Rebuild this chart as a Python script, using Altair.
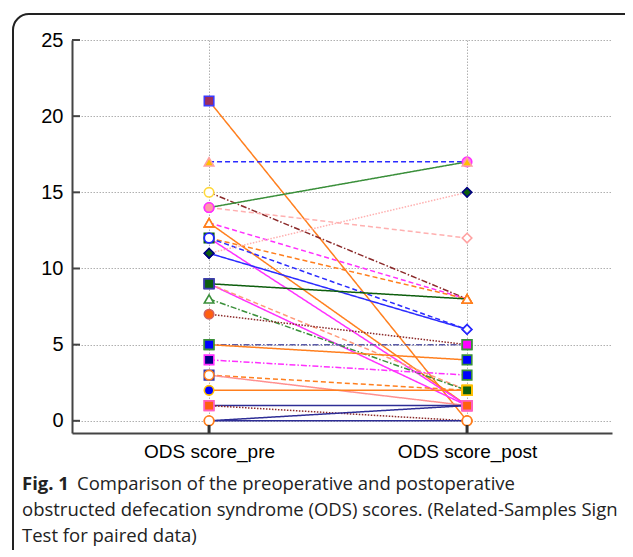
import altair as alt
import pandas as pd

# ---- data ----
categories = ["ODS score_pre", "ODS score_post"]
patients = [f"P{i:02d}" for i in range(1, 28)]
pre_scores = [21, 17, 15, 14, 14, 13, 13, 12, 12, 12, 11, 11, 9, 9, 9, 8, 7, 5, 5, 4, 3, 3, 2, 1, 1, 0, 0]
post_scores = [0, 17, 8, 17, 12, 8, 1, 8, 6, 1, 15, 6, 8, 1, 2, 2, 5, 5, 4, 3, 2, 1, 2, 1, 0, 1, 0]
pre_marker = ["sq_purple", "tri_yellow", "ci_yellowring", "ci_pink", "ci_pink", "tri_orange", "tri_orange",
              "sq_greenring", "ci_bluering", "ci_bluering", "di_green", "di_green", "sq_dkgreen", "sq_dkgreen",
              "sq_dkgreen", "tri_green", "ci_orange", "sq_blue", "sq_blue", "sq_navy", "sq_white", "ci_orangering",
              "ci_blue", "sq_orange", "sq_orange", "ci_orangering", "ci_orangering"]
post_marker = ["ci_orangering", "tri_yellow", "tri_orange", "ci_magenta", "di_pink", "tri_orange", "sq_orange",
               "tri_orange", "di_blue", "sq_orange", "di_green", "di_blue", "tri_orange", "sq_orange", "sq_dkgreen2",
               "sq_dkgreen2", "sq_magenta", "sq_magenta", "sq_blue", "sq_blue", "sq_dkgreen2", "sq_orange",
               "sq_dkgreen2", "sq_orange", "ci_orangering", "sq_orange", "ci_orangering"]
caption_bold = "Fig. 1"
caption_lines = ["Comparison of the preoperative and postoperative",
                 "obstructed defecation syndrome (ODS) scores. (Related-Samples Sign",
                 "Test for paired data)"]
y_ticks = [0, 5, 10, 15, 20, 25]

# ---- styles ----
OR, BL, DR, GR, PK, MG, NV, SA, DG = ("#ff7f1e", "#2b2bff", "#8b2a2a", "#3a8f3a", "#ffb0b0",
                                     "#ff30ff", "#2e2e96", "#ff9a7a", "#0d5e0d")
SOLID, DASH, DASHDOT, DOT = [1, 0], [5, 3], [6, 2, 1.5, 2], [1.5, 1.5]
line_colors = [OR, BL, DR, GR, PK, MG, OR, OR, BL, MG, PK, BL, DG, MG, SA, GR, DR, "#5c5ca8", OR, MG, OR, "#ff9090",
               OR, NV, DR, NV, NV]
line_dashes = [SOLID, DASH, DASHDOT, SOLID, DASH, DASH, SOLID, DASH, DASH, SOLID, DOT, SOLID, SOLID, SOLID, DASH,
               DASHDOT, DOT, DASHDOT, SOLID, DASHDOT, DASH, SOLID, SOLID, SOLID, DOT, SOLID, SOLID]
line_widths = [1.5, 1.5, 1.5, 1.5, 1.3, 1.5, 1.5, 1.3, 1.5, 1.5, 1.3, 1.5, 2.8, 1.5, 1.3, 1.3, 1.5, 2, 1.5, 1.5, 1.3,
               1.3, 2.8, 2.8, 1.5, 2.8, 2]

marker_styles = {
    # key: (shape, fill, stroke)
    "sq_purple": ("square", "#9b2e5e", "#3b3bff"),
    "tri_yellow": ("triangle-up", "#ffc000", "#ffa0a0"),
    "ci_yellowring": ("circle", "#ffffff", "#ffd83a"),
    "ci_pink": ("circle", "#ff9aa8", "#ff30ff"),
    "tri_orange": ("triangle-up", "#ffffff", "#ff7f1e"),
    "sq_greenring": ("square", "#ffffff", "#0d5e0d"),
    "ci_bluering": ("circle", "#ffffff", "#2020ff"),
    "di_green": ("diamond", "#0d5e0d", "#000080"),
    "sq_dkgreen": ("square", "#0d5e0d", "#3b3baa"),
    "tri_green": ("triangle-up", "#ffffff", "#3a8f3a"),
    "ci_orange": ("circle", "#ff6010", "#d06060"),
    "sq_blue": ("square", "#0000ff", "#3a8f3a"),
    "sq_navy": ("square", "#000080", "#ff30ff"),
    "sq_white": ("square", "#ffffff", "#3b3baa"),
    "ci_orangering": ("circle", "#ffffff", "#ff7f1e"),
    "ci_blue": ("circle", "#0000ff", "#ffc000"),
    "sq_orange": ("square", "#ff6010", "#ff60c0"),
    "ci_magenta": ("circle", "#ff70ff", "#ff30ff"),
    "di_pink": ("diamond", "#ffffff", "#ffa0a0"),
    "di_blue": ("diamond", "#ffffff", "#2b2bff"),
    "sq_magenta": ("square", "#ff00ff", "#3a8f3a"),
    "sq_dkgreen2": ("square", "#0d5e0d", "#ffc000"),
}
mk_keys = list(marker_styles.keys())

rows = []
for pid, a, b in zip(patients, pre_scores, post_scores):
    rows.append({"pid": pid, "time": categories[0], "score": a})
    rows.append({"pid": pid, "time": categories[1], "score": b})
lines_df = pd.DataFrame(rows)

mrows = []
for a, ma in zip(pre_scores, pre_marker):
    mrows.append({"time": categories[0], "score": a, "mk": ma})
for b, mb in reversed(list(zip(post_scores, post_marker))):
    mrows.append({"time": categories[1], "score": b, "mk": mb})
mk_df = pd.DataFrame(mrows)

FONT = "Liberation Sans"
x_enc = alt.X("time:N", sort=categories,
              scale=alt.Scale(type="point", padding=0.5465, align=0.486),
              axis=alt.Axis(title=None, labelAngle=0, labelFont=FONT, labelFontSize=19, labelColor="black",
                            ticks=False, domainColor="#444", domainWidth=2, grid=True, gridColor="#b0b0b0",
                            gridDash=[1.5, 1.5], gridWidth=1, labelPadding=9))
y_enc = alt.Y("score:Q",
              scale=alt.Scale(domain=[-0.8, 25], nice=False, zero=False),
              axis=alt.Axis(title=None, values=y_ticks, labelFont=FONT, labelFontSize=20, labelColor="black",
                            ticks=False, domainColor="#444", domainWidth=2, grid=True, gridColor="#b0b0b0",
                            gridDash=[1.5, 1.5], gridWidth=1, labelPadding=9))

lines = alt.Chart(lines_df).mark_line().encode(
    x=x_enc, y=y_enc, detail="pid:N",
    color=alt.Color("pid:N", scale=alt.Scale(domain=patients, range=line_colors), legend=None),
    strokeDash=alt.StrokeDash("pid:N", scale=alt.Scale(domain=patients, range=line_dashes), legend=None),
    strokeWidth=alt.StrokeWidth("pid:N", scale=alt.Scale(domain=patients, range=line_widths), legend=None),
)

points = alt.Chart(mk_df).mark_point(size=90, strokeWidth=1.6, opacity=1, filled=False).encode(
    x=alt.X("time:N", sort=categories),
    y="score:Q",
    shape=alt.Shape("mk:N", scale=alt.Scale(domain=mk_keys, range=[marker_styles[k][0] for k in mk_keys]), legend=None),
    fill=alt.Fill("mk:N", scale=alt.Scale(domain=mk_keys, range=[marker_styles[k][1] for k in mk_keys]), legend=None),
    stroke=alt.Stroke("mk:N", scale=alt.Scale(domain=mk_keys, range=[marker_styles[k][2] for k in mk_keys]), legend=None),
)

ytick_df = pd.DataFrame({"score": y_ticks})
yticks = alt.Chart(ytick_df).mark_rule(color="#444", strokeWidth=2).encode(
    y="score:Q", x=alt.value(0), x2=alt.value(8))

xtick_df = pd.DataFrame({"time": categories})
xticks = alt.Chart(xtick_df).mark_rule(color="#333", strokeWidth=3).encode(
    x=alt.X("time:N", sort=categories), y=alt.value(393), y2=alt.value(385))

frame = alt.Chart(alt.Data(values=[{}])).mark_rect(
    fillOpacity=0, stroke="#222", strokeWidth=2, cornerRadius=16).encode(
    x=alt.value(-59), x2=alt.value(600), y=alt.value(-26), y2=alt.value(560))

cap_bold = alt.Chart(alt.Data(values=[{"t": caption_bold}])).mark_text(
    font="Open Sans", fontSize=18.5, fontWeight="bold", align="left", baseline="alphabetic", color="#222").encode(
    text="t:N", x=alt.value(-50), y=alt.value(450))

cap_df = pd.DataFrame({"t": caption_lines, "line": [0, 1, 2]})
cap_rest = alt.Chart(cap_df).transform_calculate(
    px="datum.line == 0 ? 5 : -50", py="450 + 26 * datum.line").mark_text(
    font="Open Sans", fontSize=18.5, align="left", baseline="alphabetic", color="#222").encode(
    text="t:N",
    x=alt.X("px:Q", scale=None),
    y=alt.Y("py:Q", scale=None))

chart = alt.layer(frame, lines, points, yticks, xticks, cap_bold, cap_rest).properties(
    width=540, height=393,
    autosize=alt.AutoSizeParams(type="none"),
    padding={"left": 64, "top": 32, "right": 13, "bottom": 117},
).configure_view(stroke=None)

chart.save("out.html", embed_options={"renderer": "svg", "actions": False})
